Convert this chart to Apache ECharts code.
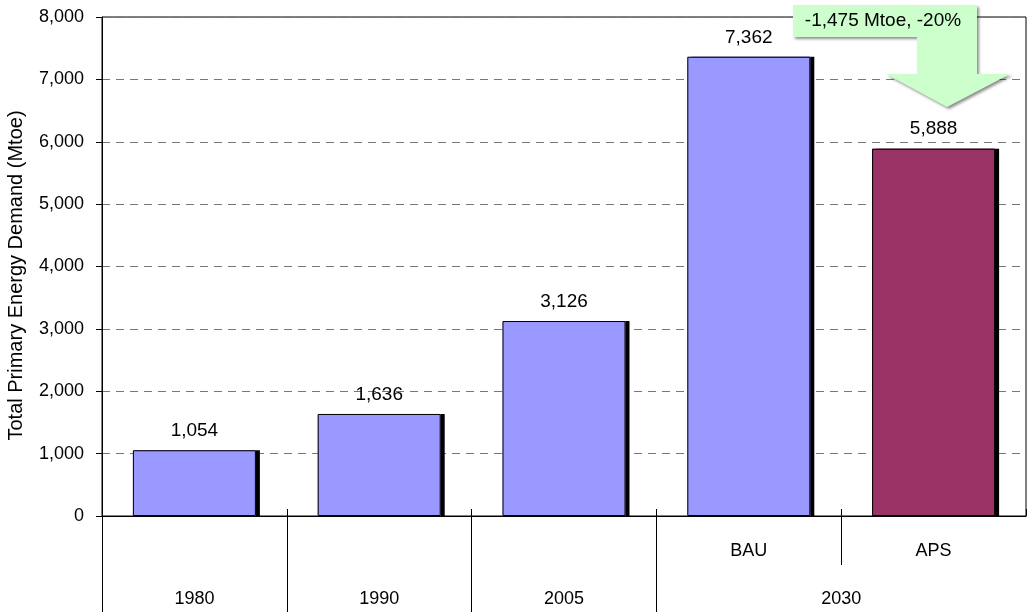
<!DOCTYPE html>
<html>
<head>
<meta charset="utf-8">
<script src="https://cdn.jsdelivr.net/npm/echarts@6/dist/echarts.min.js"></script>
<style>
  html, body { margin: 0; padding: 0; background: #fff; }
</style>
</head>
<body>
<div id="main" style="width: 1029px;height:612px;"></div>
<script>
// categories and values
var categories = ['1980', '1990', '2005', 'BAU', 'APS'];
var demand = [1054, 1636, 3126, 7362, 5888];
var barColors = ['#9999FF', '#9999FF', '#9999FF', '#9999FF', '#993366'];
// two-row category labels (11 points across the plot, labels on the odd/even points)
var scenarioRow = ['', '', '', '', '', '', '', 'BAU', '', 'APS', ''];
var yearRow = ['', '1980', '', '1990', '', '2005', '', '', '2030', '', ''];
var yearSeparators = [0, 2, 4, 6];
var scenarioSeparators = [8];
var yMin = 0, yMax = 8000, yStep = 1000;
var yName = 'Total Primary Energy Demand (Mtoe)';
var note = '-1,475 Mtoe, -20%';

var font = 'Liberation Sans, Arial, sans-serif';
var chart = echarts.init(document.getElementById('main'));

chart.setOption({
  animation: false,
  textStyle: { fontFamily: font },
  grid: {
    left: 102, right: 3, top: 17, bottom: 96,
    outerBoundsMode: 'none',
    containLabel: false,
    show: true, borderColor: '#000', borderWidth: 1
  },
  xAxis: [
    {
      type: 'category',
      data: categories,
      position: 'bottom',
      axisLine: { lineStyle: { color: '#000', width: 1 } },
      axisTick: { show: true, inside: true, length: 7, lineStyle: { color: '#000' } },
      axisLabel: { show: false }
    },
    {
      type: 'category',
      data: scenarioRow,
      boundaryGap: false,
      position: 'bottom',
      axisLine: { show: false },
      axisTick: {
        show: true, length: 49, lineStyle: { color: '#000' },
        interval: function (i) { return scenarioSeparators.indexOf(i) >= 0; }
      },
      axisLabel: { interval: 0, margin: 26, fontSize: 18, color: '#000', fontFamily: font }
    },
    {
      type: 'category',
      data: yearRow,
      boundaryGap: false,
      position: 'bottom',
      axisLine: { show: false },
      axisTick: {
        show: true, length: 96, lineStyle: { color: '#000' },
        interval: function (i) { return yearSeparators.indexOf(i) >= 0; }
      },
      axisLabel: { interval: 0, margin: 74, fontSize: 18, color: '#000', fontFamily: font }
    }
  ],
  yAxis: {
    type: 'value',
    min: yMin, max: yMax, interval: yStep,
    name: yName,
    nameLocation: 'middle',
    nameGap: 76,
    nameTextStyle: { fontSize: 20, color: '#000', fontFamily: font, padding: [0, 18, 0, 0] },
    axisLine: { show: true, lineStyle: { color: '#000' } },
    axisTick: { show: true, length: 6, lineStyle: { color: '#000' } },
    axisLabel: {
      margin: 18, fontSize: 18, color: '#000', fontFamily: font,
      formatter: function (v) { return v.toLocaleString('en-US'); }
    },
    splitLine: { show: true, lineStyle: { color: '#777', type: [8, 6], width: 1 } }
  },
  series: [
    {
      // filled bars with the drop shadow
      type: 'bar',
      xAxisIndex: 0,
      barWidth: 123,
      data: demand.map(function (v, i) {
        return {
          value: v,
          itemStyle: {
            color: barColors[i], borderWidth: 0,
            shadowColor: '#000', shadowBlur: 0, shadowOffsetX: 4, shadowOffsetY: 0
          }
        };
      }),
      label: {
        show: true, position: 'top', distance: 10,
        fontSize: 19, color: '#000', fontFamily: font,
        formatter: function (p) { return p.value.toLocaleString('en-US'); }
      }
    },
    {
      // outlines on top
      type: 'bar',
      xAxisIndex: 0,
      barWidth: 123,
      barGap: '-100%',
      data: demand,
      itemStyle: { color: 'rgba(0,0,0,0)', borderColor: '#000', borderWidth: 1 },
      silent: true
    }
  ],
  graphic: [
    {
      type: 'polygon',
      z: 100,
      shape: {
        points: [[793, 5], [977, 5], [977, 74], [1010, 74], [947, 107],
                 [886, 74], [917, 74], [917, 37], [793, 37]]
      },
      style: {
        fill: '#CCFFCC', stroke: null,
        shadowColor: 'rgba(0,0,0,0.45)', shadowBlur: 3, shadowOffsetX: 2, shadowOffsetY: 2
      }
    },
    {
      type: 'text',
      z: 101,
      x: 883, y: 21,
      style: {
        text: note, fontSize: 19, fill: '#000', fontFamily: font,
        align: 'center', verticalAlign: 'middle'
      }
    }
  ]
});
</script>
</body>
</html>
